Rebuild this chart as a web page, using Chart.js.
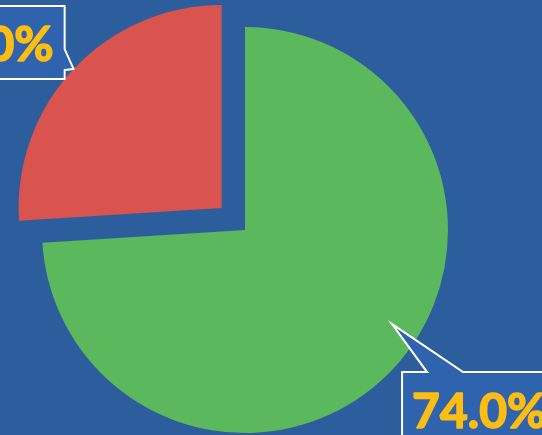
<!DOCTYPE html>
<html>
<head>
<meta charset="utf-8">
<script src="https://cdn.jsdelivr.net/npm/chart.js@4"></script>
<style>
  html, body { margin: 0; padding: 0; background: #2C5E9E; overflow: hidden; }
  #wrap { width: 542px; height: 435px; position: relative; }
</style>
</head>
<body>
<div id="wrap"><canvas id="pie"></canvas></div>
<script>
// data of the chart
const categories = ["Series A", "Series B"];
const shares = [74, 26];
const sliceColors = ["#5CB85C", "#D9534F"];
const sliceOffsets = [0, 128]; // chart.js moves slice by offset/4

// draws the callout boxes with percentage text
const callouts = {
  id: "callouts",
  afterDraw(chart) {
    const ctx = chart.ctx;
    const meta = chart.getDatasetMeta(0);
    const total = shares.reduce((a, b) => a + b, 0);
    ctx.save();
    ctx.font = "bold 48px Lato";
    meta.data.forEach((arc, i) => {
      const p = arc.getProps(["x", "y", "startAngle", "endAngle", "outerRadius", "circumference"], true);
      const mid = (p.startAngle + p.endAngle) / 2;
      const off = (arc.options.offset || 0) / 4;
      const fix = 1 - Math.sin(Math.min(Math.PI, p.circumference));
      const d = off * (1 + fix);
      const cx = p.x + Math.cos(mid) * d;
      const cy = p.y + Math.sin(mid) * d;
      const label = (shares[i] / total * 100).toFixed(1) + "%";
      const tw = ctx.measureText(label).width;
      ctx.lineWidth = 2;
      ctx.strokeStyle = "#FFFFFF";
      ctx.beginPath();
      let tx, ty;
      if (i === 0) {
        // tip inside the green slice, box below right
        const ang = 0.569;
        const tipX = cx + Math.cos(ang) * p.outerRadius * 0.86;
        const tipY = cy + Math.sin(ang) * p.outerRadius * 0.86;
        const left = tipX + 10, top = tipY + 48;
        const w = tw + 20, h = 73;
        ctx.moveTo(left, top);
        ctx.lineTo(tipX + 35, top);
        ctx.lineTo(tipX, tipY);
        ctx.lineTo(tipX + 71, top);
        ctx.lineTo(left + w, top);
        ctx.lineTo(left + w, top + h);
        ctx.lineTo(left, top + h);
        ctx.closePath();
        tx = left + 10; ty = top + 56;
        ctx.textAlign = "left";
      } else {
        // tip on the red slice edge, box to the upper left
        const tipX = cx + Math.cos(mid) * p.outerRadius;
        const tipY = cy + Math.sin(mid) * p.outerRadius;
        const right = tipX - 9, top = tipY - 63, bottom = tipY + 10;
        const w = tw + 22;
        ctx.moveTo(right - w, top);
        ctx.lineTo(right, top);
        ctx.lineTo(right, tipY - 20);
        ctx.lineTo(tipX, tipY);
        ctx.lineTo(right, tipY + 1);
        ctx.lineTo(right, bottom);
        ctx.lineTo(right - w, bottom);
        ctx.closePath();
        tx = right - 11; ty = top + 55;
        ctx.textAlign = "right";
      }
      ctx.fillStyle = "#2F63AE";
      ctx.fill();
      ctx.stroke();
      ctx.fillStyle = "#FDBD12";
      ctx.strokeStyle = "#FDBD12";
      ctx.lineWidth = 1.6;
      ctx.lineJoin = "round";
      ctx.textBaseline = "alphabetic";
      ctx.fillText(label, tx, ty);
      ctx.strokeText(label, tx, ty);
    });
    ctx.restore();
  }
};

const chart = new Chart(document.getElementById("pie"), {
  type: "pie",
  data: {
    labels: categories,
    datasets: [{
      data: shares,
      backgroundColor: sliceColors,
      borderWidth: 0,
      offset: sliceOffsets,
      radius: 203
    }]
  },
  options: {
    responsive: true,
    maintainAspectRatio: false,
    animation: false,
    layout: { padding: { left: 0, right: 52, top: 25, bottom: 0 } },
    plugins: {
      legend: { display: false },
      tooltip: { enabled: false }
    }
  },
  plugins: [callouts]
});
</script>
</body>
</html>
